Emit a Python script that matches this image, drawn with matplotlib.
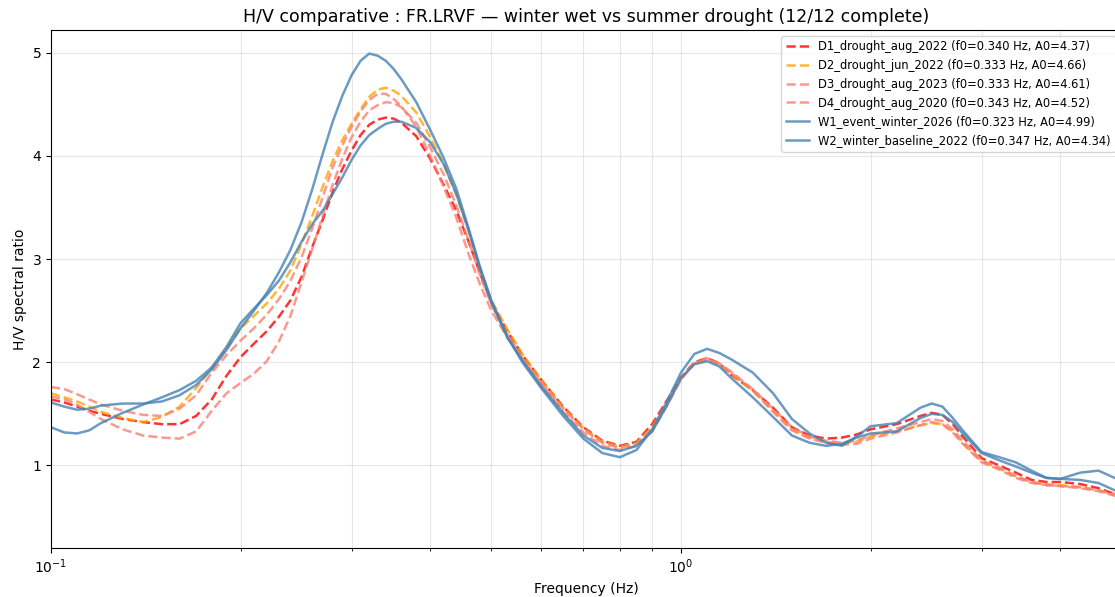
import numpy as np
import matplotlib
matplotlib.use("Agg")
import matplotlib.pyplot as plt

# frequencies (Hz) at which the curves were read
freq = [0.100, 0.105, 0.110, 0.115, 0.120, 0.130, 0.140, 0.150, 0.160, 0.170,
        0.180, 0.190, 0.200, 0.210, 0.220, 0.230, 0.240, 0.250, 0.260, 0.270,
        0.280, 0.290, 0.300, 0.310, 0.320, 0.330, 0.340, 0.350, 0.360, 0.380,
        0.400, 0.420, 0.440, 0.460, 0.480, 0.500, 0.530, 0.560, 0.600, 0.650,
        0.700, 0.750, 0.800, 0.850, 0.900, 0.950, 1.000, 1.050, 1.100, 1.150,
        1.200, 1.300, 1.400, 1.500, 1.600, 1.700, 1.800, 1.900, 2.000, 2.200,
        2.400, 2.500, 2.600, 2.700, 2.800, 3.000, 3.200, 3.400, 3.600, 3.800,
        4.000, 4.300, 4.600, 5.000]

d1_drought_aug_2022 = [
    1.64, 1.61, 1.57, 1.53, 1.50, 1.45, 1.42, 1.40, 1.40, 1.48,
    1.64, 1.87, 2.05, 2.18, 2.30, 2.44, 2.60, 2.83, 3.12, 3.38,
    3.65, 3.87, 4.05, 4.20, 4.30, 4.35, 4.37, 4.36, 4.32, 4.19,
    3.97, 3.72, 3.47, 3.17, 2.86, 2.58, 2.30, 2.07, 1.83, 1.57,
    1.37, 1.24, 1.19, 1.23, 1.40, 1.63, 1.85, 2.00, 2.04, 1.99,
    1.88, 1.73, 1.56, 1.37, 1.29, 1.26, 1.27, 1.30, 1.35, 1.40,
    1.48, 1.51, 1.49, 1.40, 1.28, 1.07, 1.00, 0.93, 0.86, 0.84,
    0.84, 0.82, 0.78, 0.70]

d2_drought_jun_2022 = [
    1.70, 1.66, 1.62, 1.57, 1.52, 1.46, 1.42, 1.47, 1.57, 1.75,
    1.95, 2.13, 2.33, 2.45, 2.57, 2.71, 2.89, 3.15, 3.42, 3.70,
    3.95, 4.15, 4.31, 4.45, 4.57, 4.64, 4.66, 4.63, 4.58, 4.42,
    4.18, 3.92, 3.62, 3.28, 2.90, 2.60, 2.32, 2.08, 1.83, 1.56,
    1.36, 1.23, 1.18, 1.22, 1.37, 1.61, 1.84, 1.99, 2.03, 1.98,
    1.89, 1.72, 1.53, 1.35, 1.27, 1.23, 1.21, 1.23, 1.28, 1.33,
    1.39, 1.41, 1.40, 1.33, 1.22, 1.04, 0.97, 0.89, 0.84, 0.82,
    0.81, 0.79, 0.76, 0.69]

d3_drought_aug_2023 = [
    1.76, 1.74, 1.69, 1.64, 1.59, 1.53, 1.49, 1.48, 1.55, 1.68,
    1.90, 2.07, 2.21, 2.33, 2.46, 2.61, 2.79, 3.02, 3.30, 3.60,
    3.89, 4.10, 4.28, 4.43, 4.54, 4.60, 4.60, 4.55, 4.48, 4.28,
    4.00, 3.70, 3.40, 3.05, 2.75, 2.50, 2.24, 2.03, 1.79, 1.52,
    1.32, 1.19, 1.15, 1.19, 1.33, 1.58, 1.83, 1.99, 2.04, 1.99,
    1.91, 1.74, 1.55, 1.37, 1.28, 1.24, 1.22, 1.24, 1.29, 1.36,
    1.42, 1.45, 1.43, 1.35, 1.24, 1.05, 0.98, 0.90, 0.84, 0.81,
    0.80, 0.79, 0.76, 0.71]

d4_drought_aug_2020 = [
    1.67, 1.64, 1.59, 1.52, 1.45, 1.35, 1.29, 1.27, 1.26, 1.33,
    1.53, 1.70, 1.80, 1.89, 2.01, 2.20, 2.45, 2.78, 3.10, 3.42,
    3.72, 3.97, 4.18, 4.33, 4.44, 4.49, 4.52, 4.51, 4.47, 4.32,
    4.08, 3.82, 3.52, 3.18, 2.84, 2.56, 2.27, 2.04, 1.80, 1.55,
    1.35, 1.22, 1.17, 1.21, 1.35, 1.60, 1.84, 1.99, 2.03, 1.98,
    1.90, 1.73, 1.52, 1.34, 1.26, 1.22, 1.20, 1.21, 1.26, 1.32,
    1.39, 1.42, 1.40, 1.32, 1.21, 1.03, 0.96, 0.88, 0.83, 0.81,
    0.80, 0.78, 0.75, 0.69]

w1_event_winter_2026 = [
    1.61, 1.57, 1.54, 1.55, 1.58, 1.60, 1.60, 1.62, 1.68, 1.78,
    1.93, 2.12, 2.33, 2.50, 2.67, 2.87, 3.09, 3.36, 3.68, 4.02,
    4.33, 4.58, 4.78, 4.92, 4.99, 4.97, 4.92, 4.84, 4.74, 4.52,
    4.25, 3.98, 3.68, 3.30, 2.92, 2.60, 2.25, 2.00, 1.75, 1.48,
    1.26, 1.12, 1.08, 1.15, 1.35, 1.62, 1.90, 2.08, 2.13, 2.09,
    2.03, 1.90, 1.70, 1.45, 1.31, 1.22, 1.19, 1.28, 1.38, 1.41,
    1.56, 1.60, 1.57, 1.46, 1.34, 1.13, 1.08, 1.03, 0.95, 0.88,
    0.87, 0.93, 0.95, 0.85]

w2_winter_baseline_2022 = [
    1.37, 1.32, 1.31, 1.34, 1.41, 1.51, 1.59, 1.66, 1.73, 1.82,
    1.95, 2.15, 2.38, 2.52, 2.65, 2.79, 2.97, 3.17, 3.34, 3.47,
    3.63, 3.79, 3.96, 4.10, 4.20, 4.26, 4.31, 4.33, 4.33, 4.27,
    4.13, 3.92, 3.63, 3.28, 2.90, 2.58, 2.24, 2.02, 1.77, 1.51,
    1.29, 1.17, 1.14, 1.19, 1.33, 1.58, 1.85, 1.98, 2.01, 1.96,
    1.85, 1.66, 1.47, 1.29, 1.22, 1.19, 1.21, 1.27, 1.31, 1.33,
    1.46, 1.50, 1.49, 1.42, 1.31, 1.12, 1.05, 0.99, 0.93, 0.88,
    0.87, 0.86, 0.83, 0.73]

labels = [
    "D1_drought_aug_2022 (f0=0.340 Hz, A0=4.37)",
    "D2_drought_jun_2022 (f0=0.333 Hz, A0=4.66)",
    "D3_drought_aug_2023 (f0=0.333 Hz, A0=4.61)",
    "D4_drought_aug_2020 (f0=0.343 Hz, A0=4.52)",
    "W1_event_winter_2026 (f0=0.323 Hz, A0=4.99)",
    "W2_winter_baseline_2022 (f0=0.347 Hz, A0=4.34)",
]
series = [d1_drought_aug_2022, d2_drought_jun_2022, d3_drought_aug_2023,
          d4_drought_aug_2020, w1_event_winter_2026, w2_winter_baseline_2022]
colors = ["red", "orange", "salmon", "salmon", "steelblue", "steelblue"]
styles = ["--", "--", "--", "--", "-", "-"]

fig = plt.figure(figsize=(11.15, 5.97), dpi=100)
ax = fig.add_axes([0.0457, 0.082, 0.960, 0.868])

for vals, lab, c, ls in zip(series, labels, colors, styles):
    ax.plot(freq, vals, ls, color=c, lw=1.8, alpha=0.8, label=lab)

ax.set_xscale("log")
ax.set_xlim(0.1, 5.0)
ax.set_ylim(0.2, 5.22)
ax.grid(True, which="both", alpha=0.3)
ax.set_xlabel("Frequency (Hz)")
ax.set_ylabel("H/V spectral ratio")
ax.set_title("H/V comparative : FR.LRVF \u2014 winter wet vs summer drought (12/12 complete)",
             fontsize=12.5)
ax.legend(loc="upper right", fontsize=8.3)

fig.savefig("out.png", dpi=100)
